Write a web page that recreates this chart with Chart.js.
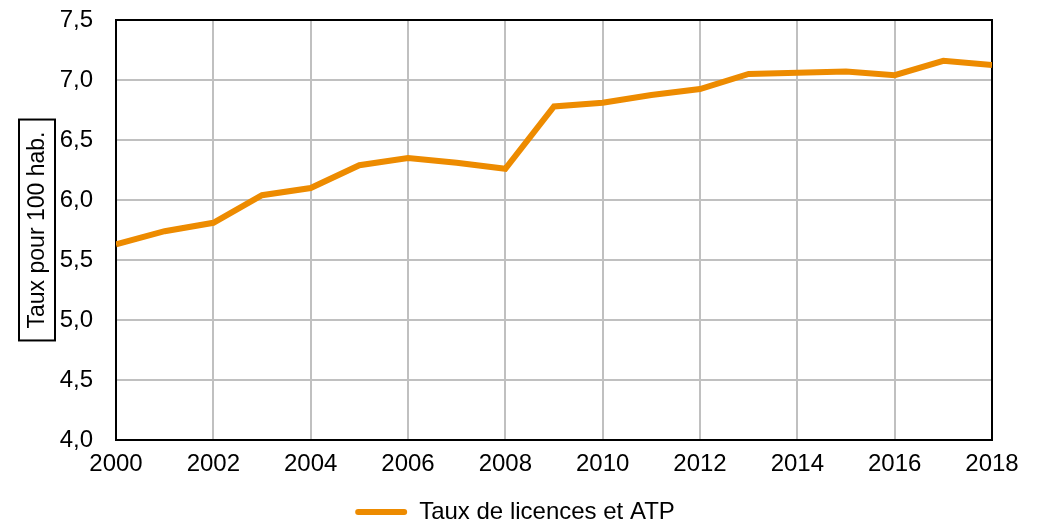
<!DOCTYPE html>
<html>
<head>
<meta charset="utf-8">
<script src="https://cdn.jsdelivr.net/npm/chart.js@4/dist/chart.umd.min.js"></script>
<style>
  html, body { margin: 0; padding: 0; background: #fff; }
  #wrap { width: 1043px; height: 522px; }
</style>
</head>
<body>
<div id="wrap"><canvas id="lineChart"></canvas></div>
<script>
const years = [2000, 2001, 2002, 2003, 2004, 2005, 2006, 2007, 2008, 2009,
               2010, 2011, 2012, 2013, 2014, 2015, 2016, 2017, 2018];
const rates = [5.63, 5.74, 5.81, 6.04, 6.10, 6.29, 6.35, 6.31, 6.26, 6.78,
               6.81, 6.875, 6.925, 7.05, 7.06, 7.07, 7.04, 7.16, 7.125];
const seriesLabel = 'Taux de licences et ATP';
const yTitle = 'Taux pour 100 hab.';

const FONT = 'Arial, "Liberation Sans", sans-serif';

// black frame around the plot + boxed vertical axis title
const framePlugin = {
    id: 'frame',
    afterLayout(chart) {
        // legend sits a little right of the canvas centre in the original
        if (chart.legend) {
            chart.legend.left += 19;
            chart.legend.right += 19;
        }
    },
    beforeDatasetsDraw(chart) {
        const { ctx, chartArea: a } = chart;
        ctx.save();
        ctx.strokeStyle = '#000';
        ctx.lineWidth = 2;
        ctx.strokeRect(a.left, a.top, a.right - a.left, a.bottom - a.top);
        ctx.restore();
    },
    afterDraw(chart) {
        const { ctx, chartArea: a } = chart;
        const cx = 37, cy = (a.top + a.bottom) / 2;
        ctx.save();
        ctx.font = '23px ' + FONT;
        const w = ctx.measureText(yTitle).width;
        ctx.strokeStyle = '#000';
        ctx.lineWidth = 2;
        ctx.strokeRect(cx - 18, cy - w / 2 - 12, 36, w + 24);
        ctx.translate(cx, cy);
        ctx.rotate(-Math.PI / 2);
        ctx.fillStyle = '#000';
        ctx.textAlign = 'center';
        ctx.textBaseline = 'middle';
        ctx.fillText(yTitle, 0, 1);
        ctx.restore();
    }
};

new Chart(document.getElementById('lineChart'), {
    type: 'line',
    data: {
        datasets: [{
            label: seriesLabel,
            data: years.map((y, i) => ({ x: y, y: rates[i] })),
            borderColor: '#ED8B00',
            backgroundColor: '#ED8B00',
            borderWidth: 6,
            borderCapStyle: 'butt',
            borderJoinStyle: 'miter',
            pointRadius: 0,
            tension: 0
        }]
    },
    options: {
        responsive: true,
        maintainAspectRatio: false,
        animation: false,
        layout: { padding: { left: 0, right: 51, top: 20, bottom: -12 } },
        scales: {
            x: {
                type: 'linear',
                min: 2000,
                max: 2018,
                afterFit: s => { s.height = 60; },
                ticks: {
                    stepSize: 2,
                    padding: 10,
                    color: '#000',
                    font: { family: FONT, size: 24 },
                    callback: v => String(v)
                },
                grid: { color: '#c0c0c0', lineWidth: 2, drawTicks: false },
                border: { display: false }
            },
            y: {
                min: 4,
                max: 7.5,
                afterFit: s => { s.width = 116; s.paddingTop = 0; s.paddingBottom = 0; },
                ticks: {
                    stepSize: 0.5,
                    padding: 23,
                    color: '#000',
                    font: { family: FONT, size: 24 },
                    callback: v => v.toFixed(1).replace('.', ',')
                },
                grid: { color: '#c0c0c0', lineWidth: 2, drawTicks: false },
                border: { display: false }
            }
        },
        plugins: {
            legend: {
                position: 'bottom',
                labels: {
                    padding: 0,
                    boxWidth: 52,
                    boxHeight: 6,
                    useBorderRadius: true,
                    borderRadius: 3,
                    color: '#000',
                    font: { family: FONT, size: 24 },
                    generateLabels: chart =>
                        Chart.defaults.plugins.legend.labels.generateLabels(chart)
                            .map(item => ({ ...item, lineWidth: 0 }))
                }
            },
            tooltip: { enabled: false }
        }
    },
    plugins: [framePlugin]
});
</script>
</body>
</html>
